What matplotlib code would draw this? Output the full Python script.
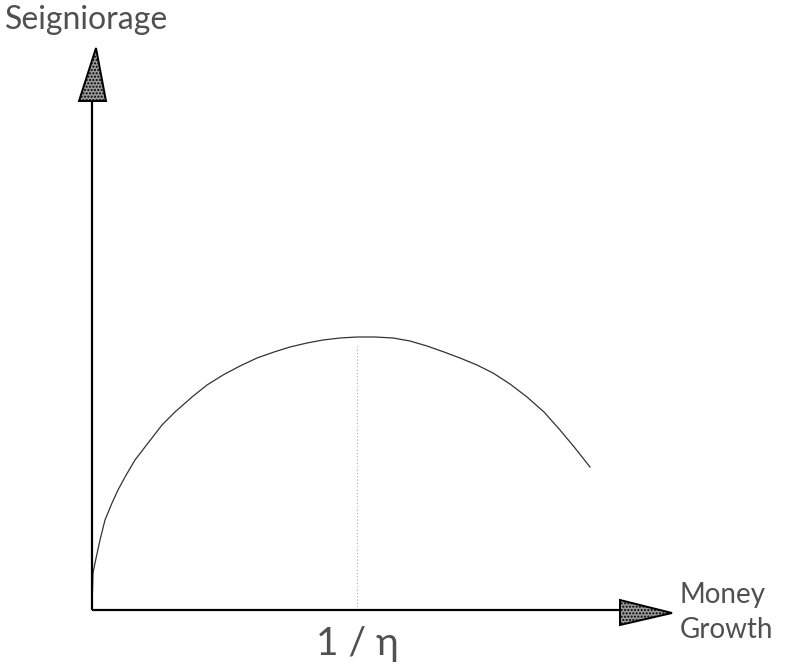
import matplotlib
matplotlib.use("Agg")
import matplotlib.pyplot as plt
from matplotlib.patches import Polygon

# Seigniorage (Laffer) curve against money growth, sketched points
money_growth = [0.00, 0.01, 0.03, 0.08, 0.13, 0.20, 0.26, 0.33, 0.43, 0.53,
                0.70, 0.83, 1.00, 1.15, 1.31, 1.48, 1.65, 1.82, 1.98, 2.15,
                2.31, 2.48, 2.65, 2.83, 3.01, 3.18, 3.35, 3.52, 3.68, 3.85,
                4.01, 4.18, 4.35, 4.52, 4.68, 4.83, 4.98]
seigniorage = [0.03, 0.37, 0.47, 0.70, 0.90, 1.07, 1.20, 1.33, 1.50, 1.63,
               1.85, 1.98, 2.13, 2.25, 2.35, 2.44, 2.52, 2.58, 2.63, 2.67,
               2.70, 2.72, 2.73, 2.73, 2.72, 2.69, 2.64, 2.58, 2.52, 2.45,
               2.37, 2.26, 2.13, 1.98, 1.80, 1.62, 1.43]
peak_growth = 2.65
peak_seigniorage = 2.73

x_axis_end = 5.28
y_axis_end = 5.09

plt.rcParams["font.family"] = ["Lato", "DejaVu Sans"]

fig = plt.figure(figsize=(7.87, 6.69), dpi=100)
ax = fig.add_axes([0, 0, 1, 1])
ax.set_xlim(-0.92, 6.95)
ax.set_ylim(-0.59, 6.10)
ax.axis("off")

# curve and the dotted drop line at the maximum
ax.plot(money_growth, seigniorage, color="#333333", lw=0.9)
ax.plot([peak_growth, peak_growth], [0, peak_seigniorage - 0.08],
        color="#777777", lw=0.6, ls=(0, (1, 3)))

# axes with shaded arrowheads
ax.plot([0, 0], [0, y_axis_end], color="black", lw=1.6, solid_capstyle="butt")
ax.plot([0, x_axis_end], [0, 0], color="black", lw=1.6, solid_capstyle="butt")
ax.add_patch(Polygon([[-0.13, y_axis_end], [0.14, y_axis_end], [0.04, y_axis_end + 0.53]],
                     closed=True, facecolor="#9a9a9a", edgecolor="black", lw=1.4,
                     hatch="....."))
ax.add_patch(Polygon([[x_axis_end, 0.10], [x_axis_end, -0.15], [x_axis_end + 0.52, -0.03]],
                     closed=True, facecolor="#9a9a9a", edgecolor="black", lw=1.4,
                     hatch="....."))

label_style = dict(color="#505050", ha="left", va="center", fontweight="normal")
ax.text(-0.87, 5.90, "Seigniorage", fontsize=23, **label_style)
ax.text(5.88, 0.15, "Money", fontsize=20, **label_style)
ax.text(5.88, -0.20, "Growth", fontsize=20, **label_style)
ax.text(peak_growth, -0.34, "1 / η", fontsize=28, color="#505050",
        ha="center", va="center", fontweight="normal")

fig.savefig("out.png", dpi=100)
